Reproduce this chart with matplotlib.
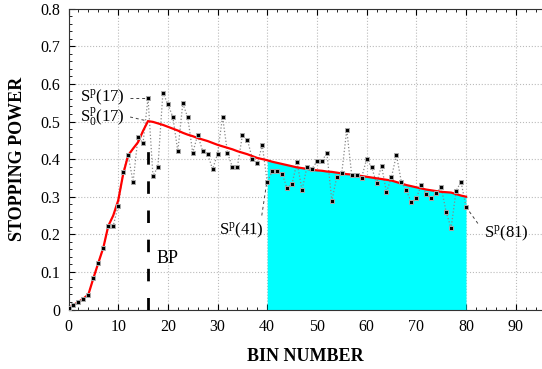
"""Stopping power vs bin number, with Bragg peak and fitted curve."""
import numpy as np
import matplotlib
matplotlib.use("Agg")
import matplotlib.pyplot as plt
from matplotlib.ticker import MultipleLocator

plt.rcParams.update({
    "font.family": "Liberation Serif",
    "font.size": 11,
    "mathtext.fontset": "custom",
    "mathtext.rm": "Liberation Serif",
    "mathtext.it": "Liberation Serif:italic",
})

# raw stopping power per bin (bins 1..81 drawn at x = 0..80)
bins = np.arange(81)
sp_raw = [
    0.003, 0.012, 0.020, 0.029, 0.039, 0.083, 0.124, 0.164, 0.222, 0.222,
    0.276, 0.366, 0.411, 0.339, 0.460, 0.442, 0.563, 0.355, 0.380, 0.577,
    0.546, 0.512, 0.421, 0.548, 0.511, 0.417, 0.464, 0.422, 0.414, 0.373,
    0.414, 0.513, 0.417, 0.378, 0.380, 0.464, 0.452, 0.400, 0.389, 0.437,
    0.338, 0.368, 0.368, 0.361, 0.322, 0.335, 0.392, 0.317, 0.380, 0.374,
    0.394, 0.394, 0.417, 0.289, 0.353, 0.363, 0.478, 0.358, 0.358, 0.351,
    0.400, 0.379, 0.336, 0.382, 0.312, 0.352, 0.411, 0.339, 0.317, 0.285,
    0.296, 0.331, 0.306, 0.297, 0.309, 0.326, 0.260, 0.216, 0.315, 0.340,
    0.273,
]
# smoothed stopping power S0
sp_smooth = [
    0.003, 0.012, 0.020, 0.029, 0.040, 0.083, 0.124, 0.164, 0.222, 0.250,
    0.290, 0.360, 0.410, 0.428, 0.445, 0.475, 0.501, 0.499, 0.495, 0.491,
    0.486, 0.481, 0.476, 0.470, 0.465, 0.461, 0.456, 0.452, 0.448, 0.443,
    0.438, 0.434, 0.430, 0.426, 0.421, 0.417, 0.413, 0.408, 0.403, 0.400,
    0.397, 0.393, 0.390, 0.387, 0.384, 0.381, 0.378, 0.376, 0.374, 0.372,
    0.370, 0.369, 0.367, 0.366, 0.364, 0.362, 0.360, 0.359, 0.357, 0.355,
    0.353, 0.351, 0.349, 0.347, 0.345, 0.343, 0.339, 0.335, 0.331, 0.328,
    0.325, 0.322, 0.319, 0.317, 0.315, 0.313, 0.312, 0.311, 0.307, 0.303,
    0.300,
]
bp_bin = 16
fill_lo, fill_hi = 40, 80

sp_raw = np.array(sp_raw)
sp_smooth = np.array(sp_smooth)

fig = plt.figure(figsize=(5.42, 3.69), dpi=100)
ax = fig.add_axes([0.1264, 0.1612, 0.8736, 0.8152])

sel = (bins >= fill_lo) & (bins <= fill_hi)
ax.fill_between(bins[sel], 0, sp_smooth[sel], color="#00ffff", linewidth=0, zorder=1)

ax.plot(bins, sp_raw, linestyle=":", color="#888888", linewidth=0.9, zorder=2)
ax.plot(bins, sp_raw, linestyle="none", marker="s", markersize=3.4,
        markerfacecolor="black", markeredgecolor="#aaaaaa", markeredgewidth=0.7, zorder=4)
ax.plot(bins, sp_smooth, color="red", linewidth=1.6, zorder=3)

# Bragg peak marker
ax.plot([bp_bin, bp_bin], [0, 0.45], color="black", linewidth=2, linestyle=(0, (4.5, 6)), zorder=3)
ax.text(17.8, 0.137, "BP", fontsize=13, va="center", ha="left")

# annotations
lead = dict(color="#444444", linewidth=0.7, linestyle=(0, (3, 3)))
ax.text(2.4, 0.563, r"S$^{\mathrm{p}}$(17)", fontsize=12, va="center", ha="left")
ax.plot([12.4, bp_bin], [0.563, sp_raw[bp_bin]], **lead)
ax.text(2.4, 0.512, r"S$_0^{\mathrm{p}}$(17)", fontsize=12, va="center", ha="left")
ax.plot([12.4, bp_bin], [0.512, sp_smooth[bp_bin]], **lead)

ax.text(30.3, 0.211, r"S$^{\mathrm{p}}$(41)", fontsize=12, va="center", ha="left")
ax.plot([38.9, 39.9], [0.25, sp_raw[40]], **lead)
ax.text(83.6, 0.203, r"S$^{\mathrm{p}}$(81)", fontsize=12, va="center", ha="left")
ax.plot([fill_hi, 82.6], [sp_raw[fill_hi], 0.225], **lead)

ax.set_xlim(0, 95.3)
ax.set_ylim(0, 0.8)
ax.xaxis.set_major_locator(MultipleLocator(10))
ax.xaxis.set_minor_locator(MultipleLocator(2))
ax.yaxis.set_major_locator(MultipleLocator(0.1))
ax.yaxis.set_minor_locator(MultipleLocator(0.02))
ax.set_yticks(np.arange(0, 0.81, 0.1))
ax.set_yticklabels(["0", "0.1", "0.2", "0.3", "0.4", "0.5", "0.6", "0.7", "0.8"])
ax.tick_params(which="both", direction="in", top=True, right=False, labelsize=11.5)
ax.tick_params(which="major", length=4)
ax.tick_params(which="minor", length=2)
ax.tick_params(axis="x", pad=7)
ax.tick_params(axis="y", pad=6)
ax.grid(which="major", linestyle=":", color="#bbbbbb", linewidth=0.8)
ax.set_axisbelow(True)
ax.spines["right"].set_visible(False)
for s in ["left", "bottom", "top"]:
    ax.spines[s].set_color("#333333")

ax.set_xlabel("BIN NUMBER", fontsize=13, fontweight="bold", labelpad=9)
ax.set_ylabel("STOPPING POWER", fontsize=13, fontweight="bold", labelpad=10)

fig.savefig("out.png", dpi=100)
